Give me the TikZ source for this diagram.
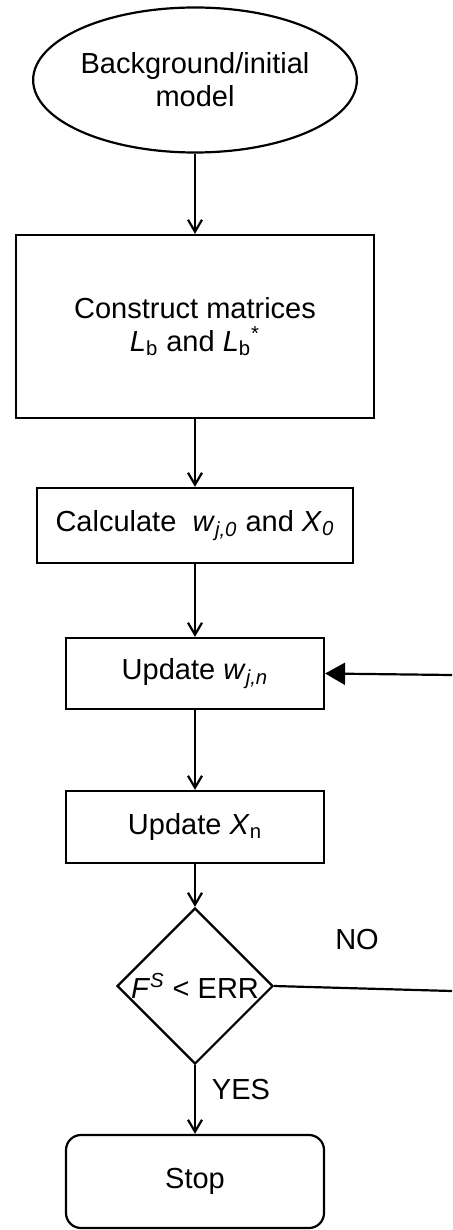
\documentclass[tikz,border=0pt]{standalone}
\usepackage{fontspec}
\setmainfont{Liberation Sans}
\usetikzlibrary{shapes.geometric,arrows.meta}

\def\midx{195}

\begin{document}
\begin{tikzpicture}[x=0.5pt,y=-0.5pt,line width=1.1pt,
    font=\fontsize{14.5}{16.5}\selectfont,
    ->,>={Straight Barb[length=6pt,width=7pt]}]
    \tikzstyle{block}=[draw,rectangle,inner sep=0pt,align=center]
    \tikzstyle{start block}=[draw,ellipse,inner sep=0pt,align=center,
        minimum width=142pt,minimum height=72.5pt]
    \tikzstyle{work block}=[block,minimum width=129pt]
    \tikzstyle{stop block}=[block,rounded corners=7.5pt,minimum width=129pt,minimum height=46.5pt]
    \tikzstyle{decision}=[draw,diamond,aspect=1,inner sep=0pt,minimum size=78pt]
    \tikzstyle{answer}=[inner sep=0pt]

    \useasboundingbox (0,0) rectangle (452,1230);

    \node[start block] (start) at (\midx, 80) {Background/initial\\model};
    \node[block,minimum width=179pt,minimum height=91.5pt] (matrices) at (\midx, 326.5)
        {Construct matrices\\\textit{L}\textsubscript{b} and \textit{L}\textsubscript{b}\textsuperscript{*}};
    \node[block,minimum width=158pt,minimum height=37.5pt] (calc) at (\midx, 525.5)
        {Calculate\ \ \textit{w}\textsubscript{\textit{j,0}} and \textit{X}\textsubscript{\textit{0}}};
    \node[work block,minimum height=35.5pt] (updw) at (\midx, 673.5)
        {Update \textit{w}\textsubscript{\textit{j,n}}};
    \node[work block,minimum height=36pt] (updx) at (\midx, 827)
        {Update \textit{X}\textsubscript{n}};
    \node[decision] (test) at (\midx, 986) {\textit{F}\textsuperscript{\textit{S}} < ERR};
    \node[stop block] (stop) at (\midx, 1181.5) {Stop};

    % Main chain from top to bottom
    \foreach \source/\dest in {start/matrices,matrices/calc,calc/updw,updw/updx,updx/test,test/stop}
        \draw (\source) -- (\dest);

    % Loop back when the test fails
    \coordinate (noend) at (452, 991);
    \coordinate (backin) at (452, 675);
    \draw[-] (test.east) -- (noend);
    \draw[-{Triangle[length=10pt,width=11pt]}] (backin) -- (updw.east);

    % Annotate the branches
    \node[answer] (no) at (357, 940) {NO};
    \node[answer] (yes) at (241, 1090) {YES};

\end{tikzpicture}
\end{document}
